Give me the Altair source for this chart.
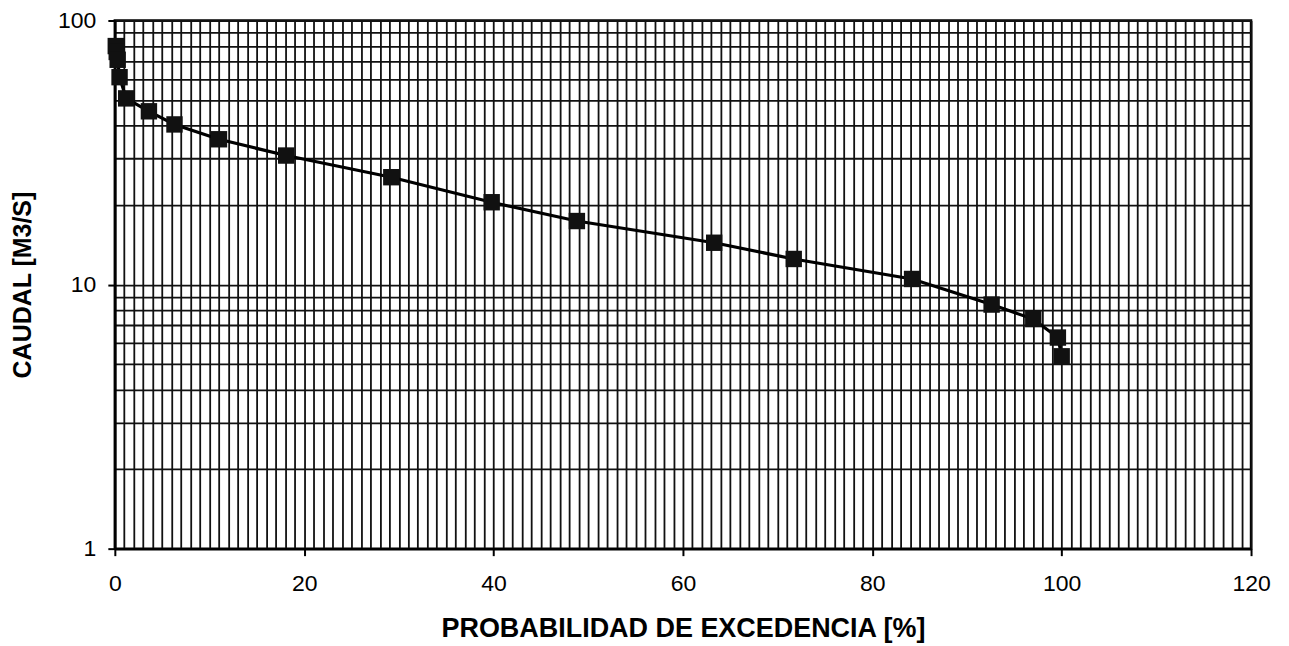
import altair as alt
import pandas as pd

# Data
prob = [0.1, 0.2, 0.3, 0.5, 1.2, 3.6, 6.3, 11.0, 18.1, 29.2, 39.8, 48.8, 63.3, 71.7, 84.2, 92.6, 97.0, 99.6, 100.0]
caudal = [80, 76, 71, 61, 50.7, 45.3, 40.4, 35.5, 30.8, 25.5, 20.5, 17.4, 14.4, 12.5, 10.5, 8.4, 7.4, 6.3, 5.35]

x_grid = list(range(0, 121))
y_grid = [1, 2, 3, 4, 5, 6, 7, 8, 9, 10, 20, 30, 40, 50, 60, 70, 80, 90, 100]

df = pd.DataFrame({"prob": prob, "caudal": caudal})

FONT = "Liberation Sans"

x_enc = alt.X(
    "prob:Q",
    title="PROBABILIDAD DE EXCEDENCIA [%]",
    scale=alt.Scale(domain=[0, 120], nice=False, zero=False),
    axis=alt.Axis(
        values=x_grid,
        grid=True,
        labelExpr="datum.value % 20 === 0 ? datum.label : ''",
        tickOpacity={"condition": {"test": "datum.value % 20 === 0", "value": 1}, "value": 0},
        labelOverlap=False,
        labelFlush=False,
        labelBound=False,
        labelPadding=17,
        titlePadding=20,
        titleFontSize=27,
    ),
)

y_enc = alt.Y(
    "caudal:Q",
    title="CAUDAL [M3/S]",
    scale=alt.Scale(type="log", domain=[1, 100], nice=False),
    axis=alt.Axis(
        values=y_grid,
        grid=True,
        format="d",
        labelExpr="(datum.value === 1 || datum.value === 10 || datum.value === 100) ? datum.label : ''",
        tickOpacity={"condition": {"test": "datum.value === 1 || datum.value === 10 || datum.value === 100", "value": 1}, "value": 0},
        labelOverlap=False,
        labelPadding=12,
        titlePadding=22,
    ),
)

base = alt.Chart(df).encode(x=x_enc, y=y_enc)

line = base.mark_line(color="black", strokeWidth=3.2)
points = base.mark_point(shape="square", filled=True, size=270, color="#111111", opacity=1)

chart = (
    (line + points)
    .properties(
        width=1138,
        height=529,
        background="white",
        autosize=alt.AutoSizeParams(type="none"),
        padding={"left": 107, "top": 12, "right": 30, "bottom": 96},
    )
    .configure_view(stroke="black", strokeWidth=2.5)
    .configure_axis(
        gridColor="#111111",
        gridWidth=1.8,
        gridOpacity=1,
        domainColor="black",
        domainWidth=2.5,
        tickColor="black",
        tickWidth=2,
        tickSize=7,
        labelFont=FONT,
        labelFontSize=23,
        labelColor="black",
        titleFont=FONT,
        titleFontSize=25,
        titleFontWeight="bold",
        titleColor="black",
    )
)

chart.save("out.html", embed_options={"renderer": "svg", "actions": False})
